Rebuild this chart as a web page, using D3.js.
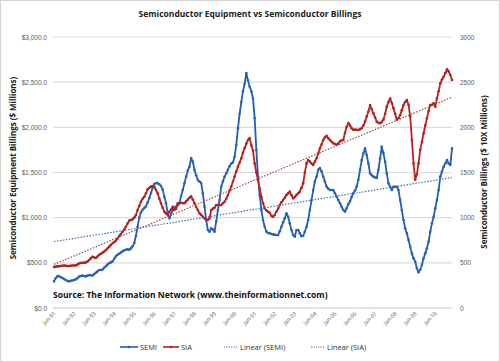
<!DOCTYPE html>
<html>
<head>
<meta charset="utf-8">
<script src="https://cdn.jsdelivr.net/npm/d3@7"></script>
<style>
  body { margin: 0; background: #fff; }
  svg { display: block; font-family: "Open Sans", "Noto Sans", sans-serif; }
</style>
</head>
<body>
<div id="chart"></div>
<script>
// x axis labels, one every 12 months
var tickLabels = ["Jan-91","Jan-92","Jan-93","Jan-94","Jan-95","Jan-96","Jan-97","Jan-98","Jan-99","Jan-00",
                  "Jan-01","Jan-02","Jan-03","Jan-04","Jan-05","Jan-06","Jan-07","Jan-08","Jan-09","Jan-10"];
var leftTicks = [0, 500, 1000, 1500, 2000, 2500, 3000];

// SEMI billings, $ millions, monthly Jan-91 ..
var semi = [
  295, 330, 350, 355, 340, 332, 320, 310, 300, 295, 300, 305,
  310, 317, 330, 347, 355, 358, 355, 350, 358, 365, 362, 360,
  375, 391, 405, 420, 420, 425, 445, 461, 480, 498, 505, 516,
  545, 572, 590, 601, 615, 627, 640, 645, 650, 645, 660, 683,
  720, 800, 900, 1000, 1060, 1088, 1107, 1125, 1170, 1217, 1273, 1330,
  1372, 1384, 1380, 1370, 1350, 1310, 1230, 1160, 1050, 993, 1040, 1085,
  1110, 1122, 1140, 1160, 1240, 1306, 1380, 1454, 1520, 1565, 1660, 1620,
  1528, 1470, 1417, 1400, 1384, 1270, 1122, 974, 864, 845, 882, 870,
  845, 956, 1085, 1195, 1343, 1400, 1454, 1491, 1530, 1570, 1600, 1610,
  1675, 1805, 1990, 2150, 2280, 2400, 2480, 2600, 2520, 2450, 2400, 2320,
  2100, 1750, 1454, 1250, 1085, 974, 900, 845, 830, 827, 820, 815,
  810, 808, 808, 850, 900, 950, 993, 1048, 1010, 937, 864, 808,
  790, 864, 864, 827, 795, 800, 845, 900, 974, 1085, 1195, 1306,
  1400, 1454, 1530, 1550, 1513, 1454, 1400, 1343, 1320, 1306, 1306, 1306,
  1270, 1232, 1195, 1160, 1120, 1085, 1066, 1103, 1150, 1180, 1230, 1270,
  1300, 1343, 1420, 1528, 1638, 1712, 1767, 1694, 1601, 1491, 1470, 1454,
  1445, 1439, 1530, 1657, 1786, 1712, 1620, 1491, 1380, 1343, 1306, 1343,
  1343, 1343, 1306, 1195, 1085, 974, 882, 827, 753, 679, 605, 550,
  513, 439, 395, 424, 476, 550, 605, 660, 734, 845, 937, 1010,
  1103, 1195, 1306, 1454, 1510, 1565, 1601, 1638, 1601, 1584, 1767
];

// SIA billings, $ 10X millions, same months
var sia = [
  454, 458, 461, 462, 465, 468, 470, 468, 465, 465, 468, 470,
  470, 472, 480, 494, 498, 500, 502, 505, 515, 531, 550, 568,
  560, 553, 570, 590, 600, 612, 625, 642, 660, 679, 698, 716,
  730, 745, 770, 797, 820, 845, 870, 900, 935, 967, 975, 981,
  1000, 1030, 1085, 1130, 1177, 1210, 1232, 1270, 1314, 1330, 1345, 1350,
  1340, 1306, 1269, 1210, 1158, 1110, 1066, 1045, 1030, 1066, 1090, 1120,
  1085, 1100, 1160, 1160, 1165, 1160, 1160, 1180, 1200, 1220, 1236, 1200,
  1160, 1120, 1085, 1050, 1030, 1010, 992, 980, 975, 990, 1085, 1100,
  1110, 1140, 1140, 1140, 1140, 1160, 1177, 1210, 1250, 1300, 1345, 1400,
  1455, 1510, 1565, 1610, 1657, 1720, 1770, 1820, 1860, 1880, 1800, 1740,
  1600, 1500, 1417, 1320, 1232, 1160, 1103, 1080, 1066, 1055, 1020, 1010,
  1030, 1066, 1100, 1140, 1170, 1195, 1220, 1250, 1270, 1288, 1250, 1214,
  1230, 1250, 1270, 1288, 1330, 1380, 1500, 1601, 1638, 1620, 1600, 1584,
  1620, 1657, 1710, 1767, 1810, 1860, 1890, 1905, 1880, 1860, 1840, 1825,
  1815, 1808, 1820, 1845, 1855, 1860, 1940, 2006, 2048, 2020, 1990, 1973,
  1975, 1973, 1970, 1980, 1990, 2020, 2063, 2120, 2174, 2247, 2200, 2155,
  2110, 2063, 2050, 2045, 2060, 2085, 2150, 2229, 2280, 2320, 2270, 2210,
  2150, 2085, 2100, 2137, 2190, 2247, 2280, 2302, 2250, 2118, 1860, 1601,
  1420, 1480, 1601, 1750, 1840, 1933, 2020, 2100, 2180, 2247, 2250, 2266,
  2229, 2321, 2400, 2487, 2530, 2560, 2600, 2642, 2620, 2580, 2524
];

var W = 500, H = 362;
var margin = { top: 37, right: 48, bottom: 54, left: 54 };

var svg = d3.select("#chart").append("svg").attr("width", W).attr("height", H);

svg.append("rect").attr("x", 0.5).attr("y", 0.5).attr("width", W - 1).attr("height", H - 1)
  .attr("fill", "#fff").attr("stroke", "#d4d4d4");

var x = d3.scaleLinear().domain([0, semi.length - 1]).range([margin.left, W - margin.right]);
var y = d3.scaleLinear().domain([0, 3000]).range([H - margin.bottom, margin.top]);
var y2 = d3.scaleLinear().domain([0, 3000]).range([H - margin.bottom, margin.top]);

// gridlines
svg.append("g").selectAll("line").data(leftTicks).enter().append("line")
  .attr("x1", margin.left - 1).attr("x2", W - margin.right)
  .attr("y1", d => y(d)).attr("y2", d => y(d))
  .attr("stroke", d => d == 0 ? "#c8c8c8" : "#dcdcdc").attr("stroke-width", 1.2);

// left axis
var yAxis = d3.axisLeft(y).tickValues(leftTicks).tickSize(0).tickPadding(6)
  .tickFormat(d => "$" + d3.format(",.1f")(d));
var gl = svg.append("g").attr("transform", "translate(" + (margin.left - 1) + ",0)").call(yAxis);
gl.select(".domain").remove();
gl.selectAll("text").attr("font-size", 6.5).attr("fill", "#595959");

// right axis
var yAxisR = d3.axisRight(y2).tickValues(leftTicks).tickSize(0).tickPadding(8).tickFormat(d3.format("d"));
var gr = svg.append("g").attr("transform", "translate(" + (W - margin.right) + ",0)").call(yAxisR);
gr.select(".domain").remove();
gr.selectAll("text").attr("font-size", 6.5).attr("fill", "#595959");

// x labels
svg.append("g").selectAll("text").data(tickLabels).enter().append("text")
  .attr("transform", (d, i) => "translate(" + (x(i * 12) + 2) + "," + (H - margin.bottom + 6) + ") rotate(-45)")
  .attr("text-anchor", "end").attr("font-size", 5.5).attr("fill", "#595959")
  .text(d => d);

// trend lines (least squares)
function fit(vals) {
  var n = vals.length, mx = d3.mean(vals, (d, i) => i), my = d3.mean(vals);
  var sxy = d3.sum(vals, (d, i) => (i - mx) * (d - my));
  var sxx = d3.sum(vals, (d, i) => (i - mx) * (i - mx));
  var b = sxy / sxx;
  return [[0, my - b * mx], [n - 1, my + b * (n - 1 - mx)]];
}

var line = d3.line().x(d => x(d[0])).y(d => y(d[1]));

function series(vals, lineCol, dotCol) {
  var pts = vals.map((v, i) => [i, v]);
  svg.append("path").datum(pts).attr("d", line).attr("fill", "none")
    .attr("stroke", lineCol).attr("stroke-width", 1.8).attr("stroke-linejoin", "round");
  svg.append("g").selectAll("circle").data(pts).enter().append("circle")
    .attr("cx", d => x(d[0])).attr("cy", d => y(d[1])).attr("r", 1.3).attr("fill", dotCol);
}

series(semi, "#1f5fb5", "#2a64b0");
series(sia, "#c0201c", "#b0231f");

svg.append("path").datum(fit(semi)).attr("d", line).attr("fill", "none")
  .attr("stroke", "#3f6fb5").attr("stroke-width", 1.2).attr("stroke-dasharray", "1.5,1.5");
svg.append("path").datum(fit(sia)).attr("d", line).attr("fill", "none")
  .attr("stroke", "#9e4a4a").attr("stroke-width", 1.2).attr("stroke-dasharray", "1.5,1.5");

// title
svg.append("text").attr("x", 250).attr("y", 17).attr("text-anchor", "middle")
  .attr("font-size", 8.5).attr("font-weight", "bold").attr("fill", "#222")
  .text("Semiconductor Equipment vs Semiconductor Billings");

// axis titles
svg.append("text").attr("transform", "translate(16,168) rotate(-90)").attr("text-anchor", "middle")
  .attr("font-size", 8).attr("font-weight", "bold").attr("fill", "#222")
  .text("Semiconductor Equipment Billings ($ Millions)");
svg.append("text").attr("transform", "translate(487,172) rotate(-90)").attr("text-anchor", "middle")
  .attr("font-size", 8).attr("font-weight", "bold").attr("fill", "#222")
  .text("Semiconductor Billings ($ 10X Millions)");

// source note
svg.append("text").attr("x", 53).attr("y", 298).attr("font-size", 8.5).attr("font-weight", "bold").attr("fill", "#111")
  .text("Source: The Information Network (www.theinformationnet.com)");

// legend
var legend = [
  { name: "SEMI", col: "#1f5fb5", dash: null, x: 120, len: 18 },
  { name: "SIA", col: "#c0201c", dash: null, x: 163, len: 16 },
  { name: "Linear  (SEMI)", col: "#3f6fb5", dash: "1.2,1.2", x: 224, len: 14 },
  { name: "Linear  (SIA)", col: "#9e4a4a", dash: "1.2,1.2", x: 311, len: 14 }
];
var lg = svg.append("g").selectAll("g").data(legend).enter().append("g")
  .attr("transform", d => "translate(" + d.x + ",350)");
lg.append("line").attr("x1", 0).attr("x2", d => d.len).attr("y1", -3).attr("y2", -3)
  .attr("stroke", d => d.col).attr("stroke-width", d => d.dash ? 1 : 1.6)
  .attr("stroke-dasharray", d => d.dash);
lg.filter(d => !d.dash).append("circle").attr("cx", d => d.len / 2).attr("cy", -3).attr("r", 1.3).attr("fill", d => d.col);
lg.append("text").attr("x", d => d.len + 2).attr("y", 0).attr("font-size", 7.5).attr("fill", "#333").text(d => d.name);
</script>
</body>
</html>
